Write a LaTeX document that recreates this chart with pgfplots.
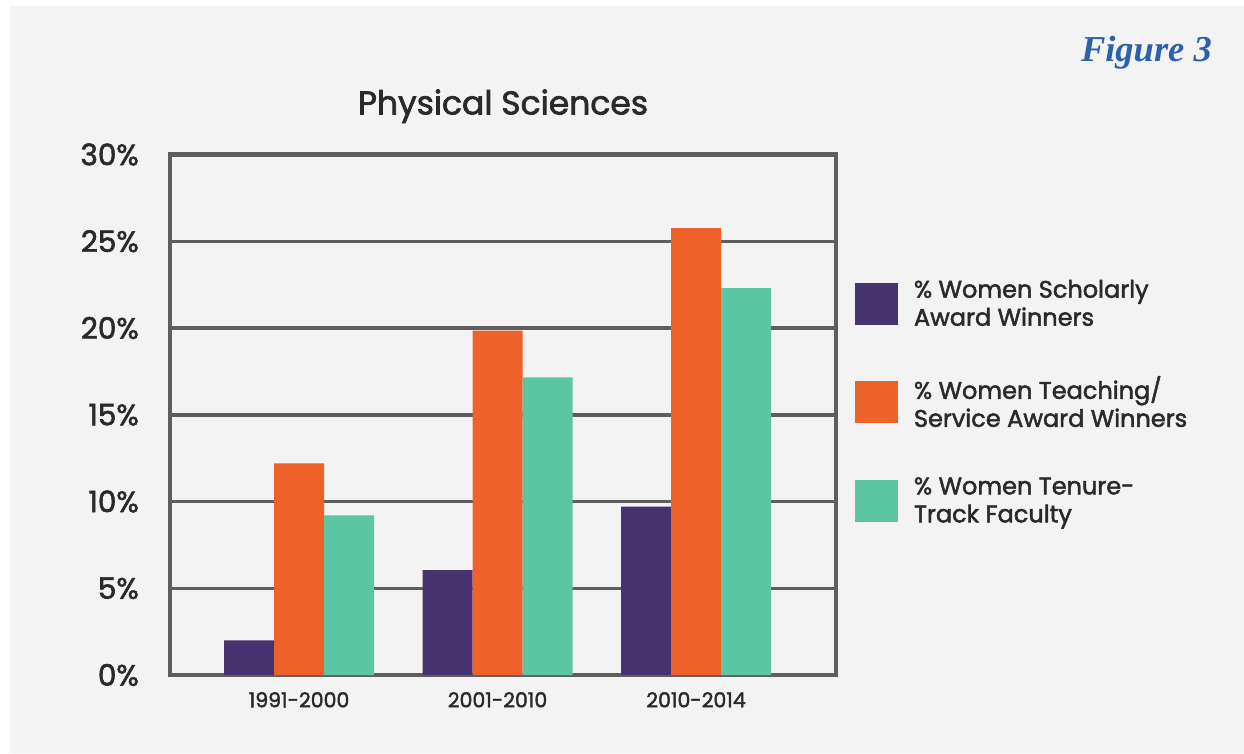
\documentclass[border=0pt]{standalone}
\usepackage{pgfplots}
\pgfplotsset{compat=1.18}
\usepackage{fontspec}
\setmainfont{Poppins}[FakeBold=2]
\newfontfamily\figfont{Liberation Serif}
\definecolor{bgc}{HTML}{F3F3F3}
\definecolor{gridc}{HTML}{5E5E5E}
\definecolor{cpurple}{HTML}{46326E}
\definecolor{corange}{HTML}{EE6229}
\definecolor{cgreen}{HTML}{5CC6A2}
\definecolor{txt}{HTML}{2A2A2A}
\definecolor{figblue}{HTML}{2C61AC}
\begin{document}
\begin{tikzpicture}[x=1pt,y=1pt]
\fill[white] (0,0) rectangle (1244,753);
\fill[bgc] (10,0) rectangle (1244,747);
\begin{axis}[
  at={(170pt,78pt)}, anchor=south west,
  scale only axis, width=666pt, height=520.5pt,
  ybar=0pt, bar width=50pt,
  xmin=-0.65, xmax=2.705, ymin=0, ymax=30,
  xtick={0,1,2}, xticklabels={1991-2000,2001-2010,2010-2014},
  ytick={0,5,10,15,20,25,30}, yticklabels={0\%,5\%,10\%,15\%,20\%,25\%,30\%},
  major tick length=0pt,
  ymajorgrids, grid style={gridc, line width=3.5pt},
  axis line style={gridc, line width=4.5pt},
  yticklabel style={font=\fontsize{29.5}{29.5}\selectfont, text=txt, inner sep=0pt, xshift=-31pt},
  xticklabel style={font=\fontsize{20.5}{20.5}\selectfont, text=txt, inner sep=0pt, yshift=-17pt},
  title={Physical Sciences},
  title style={at={(0.5,1)}, anchor=base, yshift=34pt, font=\fontsize{33}{33}\selectfont, text=txt, inner sep=0pt},
  legend style={at={(1.0285,0.759)}, anchor=north west, draw=none, fill=none, inner sep=0pt, outer sep=0pt,
    row sep=49pt, column sep=16pt, font=\fontsize{24}{28}\selectfont, text=txt,
    nodes={inner sep=0pt, align=left}},
  legend cell align=left,
  legend image code/.code={\fill[#1] (0pt,-21pt) rectangle (43pt,21pt);},
]
\addplot[fill=cpurple, draw=none] coordinates {(0,2.0) (1,6.05) (2,9.7)};
\addlegendentry{\% Women Scholarly\\Award Winners}
\addplot[fill=corange, draw=none] coordinates {(0,12.2) (1,19.85) (2,25.75)};
\addlegendentry{\% Women Teaching/\\Service Award Winners}
\addplot[fill=cgreen, draw=none] coordinates {(0,9.2) (1,17.15) (2,22.3)};
\addlegendentry{\% Women Tenure-\\Track Faculty}
\end{axis}
\node[anchor=base east, font=\figfont\bfseries\itshape\fontsize{36.5}{36.5}\selectfont, text=figblue, inner sep=0pt] at (1212,691) {Figure 3};
\pgfresetboundingbox
\useasboundingbox (0,0) rectangle (1244,753);
\end{tikzpicture}
\end{document}
